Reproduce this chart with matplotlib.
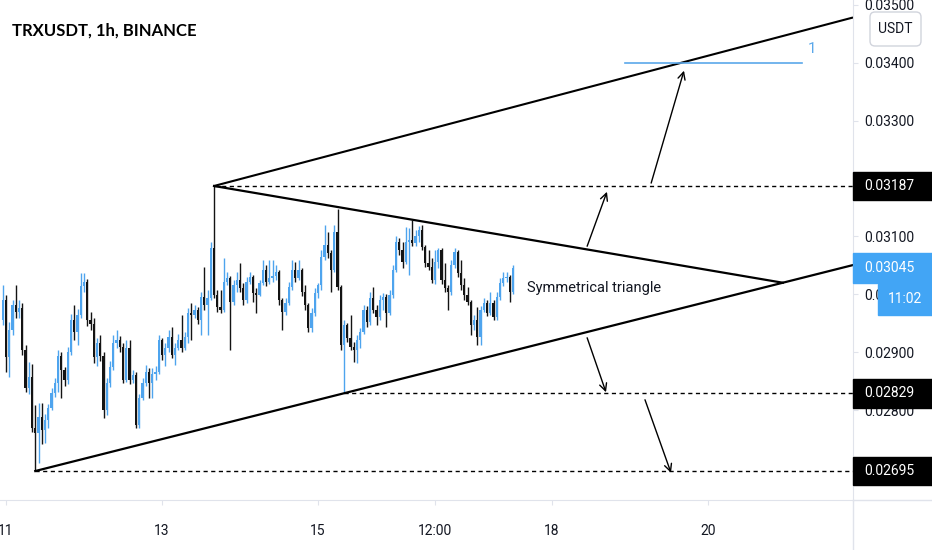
import matplotlib
matplotlib.use('Agg')
from matplotlib import pyplot as plt
from matplotlib.patches import Rectangle, FancyBboxPatch
from matplotlib.lines import Line2D
from matplotlib.transforms import blended_transform_factory, offset_copy

plt.rcParams['font.family'] = ['Roboto', 'DejaVu Sans']

# ---- data: TRXUSDT 1h candles, hour 0 = day 11 00:00 ----
first_hour = -1
first_open = 0.02956
closes = [0.02990, 0.02892, 0.02938, 0.02982, 0.02969, 0.02976, 0.02904, 0.02838, 0.02857, 0.02769,
          0.02761, 0.02788, 0.02766, 0.02783, 0.02804, 0.02830, 0.02847, 0.02893, 0.02869, 0.02852,
          0.02900, 0.02956, 0.02935, 0.02964, 0.03014, 0.03021, 0.02956, 0.02949, 0.02892, 0.02916,
          0.02893, 0.02800, 0.02847, 0.02875, 0.02916, 0.02921, 0.02909, 0.02852, 0.02907, 0.02852,
          0.02861, 0.02774, 0.02821, 0.02847, 0.02866, 0.02847, 0.02862, 0.02866, 0.02921, 0.02895,
          0.02907, 0.02926, 0.02895, 0.02907, 0.02921, 0.02907, 0.02926, 0.02968, 0.02964, 0.02973,
          0.02956, 0.02995, 0.02982, 0.02994, 0.03080, 0.02999, 0.02978, 0.02973, 0.03021, 0.03028,
          0.02987, 0.03016, 0.03025, 0.03011, 0.02990, 0.03021, 0.03030, 0.03002, 0.02999, 0.03020,
          0.03042, 0.03021, 0.03028, 0.03032, 0.03038, 0.02990, 0.02969, 0.02985, 0.03013, 0.03042,
          0.03028, 0.03042, 0.03004, 0.02982, 0.02942, 0.02968, 0.03002, 0.03016, 0.03064, 0.03085,
          0.03071, 0.03042, 0.03108, 0.03013, 0.02912, 0.02947, 0.02925, 0.02909, 0.02904, 0.02921,
          0.02935, 0.02973, 0.02952, 0.02994, 0.02973, 0.02961, 0.02990, 0.02995, 0.02968, 0.02999,
          0.03042, 0.03090, 0.03076, 0.03056, 0.03090, 0.03094, 0.03089, 0.03101, 0.03111, 0.03082,
          0.03054, 0.03047, 0.03025, 0.03056, 0.03076, 0.03025, 0.03011, 0.03004, 0.03051, 0.03073,
          0.03037, 0.03016, 0.02999, 0.02987, 0.02947, 0.02956, 0.02926, 0.02973, 0.02985, 0.02968,
          0.02985, 0.02961, 0.02995, 0.03020, 0.03028, 0.03030, 0.03004, 0.03045]
highs = [0.03016, 0.02999, 0.02952, 0.02990, 0.03016, 0.02990, 0.02985, 0.02912, 0.02883, 0.02880,
         0.02809, 0.02812, 0.02812, 0.02793, 0.02811, 0.02838, 0.02856, 0.02904, 0.02900, 0.02875,
         0.02909, 0.02966, 0.02982, 0.02975, 0.03037, 0.03037, 0.03026, 0.02969, 0.02959, 0.02925,
         0.02930, 0.02900, 0.02856, 0.02885, 0.02930, 0.02938, 0.02928, 0.02916, 0.02921, 0.02921,
         0.02869, 0.02866, 0.02828, 0.02856, 0.02878, 0.02873, 0.02873, 0.02876, 0.02930, 0.02925,
         0.02916, 0.02938, 0.02944, 0.02916, 0.02931, 0.02964, 0.02935, 0.02976, 0.02985, 0.02982,
         0.02978, 0.03004, 0.03047, 0.03007, 0.03090, 0.03187, 0.03007, 0.03007, 0.03063, 0.03038,
         0.03032, 0.03025, 0.03038, 0.03054, 0.03020, 0.03030, 0.03038, 0.03033, 0.03011, 0.03025,
         0.03059, 0.03051, 0.03059, 0.03059, 0.03051, 0.03042, 0.02994, 0.02994, 0.03021, 0.03059,
         0.03056, 0.03059, 0.03045, 0.03016, 0.02985, 0.02976, 0.03011, 0.03020, 0.03076, 0.03120,
         0.03108, 0.03076, 0.03120, 0.03147, 0.03016, 0.02956, 0.02950, 0.02964, 0.02918, 0.02930,
         0.02942, 0.02982, 0.02980, 0.03004, 0.03013, 0.02982, 0.02999, 0.03002, 0.03001, 0.03007,
         0.03051, 0.03101, 0.03097, 0.03090, 0.03116, 0.03114, 0.03128, 0.03111, 0.03118, 0.03120,
         0.03085, 0.03076, 0.03063, 0.03076, 0.03080, 0.03080, 0.03054, 0.03016, 0.03059, 0.03080,
         0.03076, 0.03059, 0.03028, 0.03013, 0.02990, 0.02964, 0.02978, 0.02980, 0.02994, 0.02990,
         0.03004, 0.02990, 0.03004, 0.03028, 0.03038, 0.03038, 0.03033, 0.03051]
lows = [0.02947, 0.02866, 0.02857, 0.02930, 0.02959, 0.02959, 0.02895, 0.02831, 0.02828, 0.02762,
        0.02695, 0.02709, 0.02742, 0.02743, 0.02769, 0.02800, 0.02823, 0.02831, 0.02821, 0.02842,
        0.02845, 0.02895, 0.02921, 0.02912, 0.02959, 0.03004, 0.02945, 0.02938, 0.02881, 0.02876,
        0.02885, 0.02787, 0.02792, 0.02840, 0.02869, 0.02907, 0.02900, 0.02847, 0.02849, 0.02845,
        0.02847, 0.02769, 0.02769, 0.02818, 0.02842, 0.02821, 0.02821, 0.02852, 0.02862, 0.02887,
        0.02876, 0.02900, 0.02890, 0.02878, 0.02904, 0.02900, 0.02904, 0.02916, 0.02921, 0.02959,
        0.02949, 0.02930, 0.02973, 0.02930, 0.02990, 0.02994, 0.02969, 0.02968, 0.02969, 0.03016,
        0.02904, 0.02982, 0.03004, 0.03004, 0.02982, 0.02985, 0.03018, 0.02987, 0.02968, 0.02997,
        0.03016, 0.03014, 0.03018, 0.03021, 0.03025, 0.02982, 0.02938, 0.02964, 0.02982, 0.03007,
        0.03021, 0.03025, 0.02997, 0.02973, 0.02935, 0.02935, 0.02963, 0.02994, 0.03007, 0.03059,
        0.03063, 0.03004, 0.03038, 0.03007, 0.02904, 0.02829, 0.02918, 0.02904, 0.02883, 0.02881,
        0.02907, 0.02931, 0.02944, 0.02947, 0.02968, 0.02947, 0.02956, 0.02973, 0.02944, 0.02964,
        0.02994, 0.03038, 0.03068, 0.03045, 0.03052, 0.03033, 0.03083, 0.03083, 0.03090, 0.03076,
        0.03047, 0.03042, 0.03020, 0.03018, 0.03045, 0.03018, 0.03004, 0.02973, 0.02999, 0.03045,
        0.03030, 0.03007, 0.02990, 0.02982, 0.02930, 0.02938, 0.02912, 0.02912, 0.02969, 0.02963,
        0.02964, 0.02956, 0.02956, 0.02990, 0.03014, 0.03021, 0.02987, 0.03001]

# drawings (hour, price)
low_pt = (9, 0.02695)
top_pt = (64, 0.03187)
apex_pt = (239, 0.03020)
channel_pt = (208, 0.03400)
mid_low_pt = (104, 0.02829)
target_price = 0.03400
target_span = (190.5, 245)
arrows = [((198.5, 0.03192), (208.6, 0.03386)),
          ((178.8, 0.03083), (184.9, 0.03177)),
          ((178.8, 0.02925), (184.6, 0.02831)),
          ((196.6, 0.02818), (204.6, 0.02692))]
last_price = 0.03045
level_prices = [0.03187, 0.02829, 0.02695]
y_ticks = [0.035, 0.034, 0.033, 0.031, 0.030, 0.029, 0.028]
x_ticks = [0, 48, 96, 132, 168, 216]
x_labels = ['11', '13', '15', '12:00', '18', '20']
xlim = (-1.85, 260.6)
ylim = (0.02645, 0.03508)

up_col = '#4ea4ee'
down_col = '#131313'
blue = '#42a5f5'
text_col = '#131722'
grid_col = '#e0e3eb'

fig = plt.figure(figsize=(9.32, 5.5), dpi=100)
ax = fig.add_axes([0, 50 / 550, 853 / 932, 500 / 550])
ax.set_xlim(*xlim)
ax.set_ylim(*ylim)

# candles
opens = [first_open] + closes[:-1]
hours = [first_hour + i for i in range(len(closes))]
cols = [up_col if c >= o else down_col for o, c in zip(opens, closes)]
ax.vlines(hours, lows, highs, colors=cols, lw=1.0, zorder=2)
bottoms = [min(o, c) for o, c in zip(opens, closes)]
heights = [max(abs(c - o), 0.000018) for o, c in zip(opens, closes)]
ax.bar(hours, heights, bottom=bottoms, width=0.72, color=cols, zorder=3)

# trend lines
def line_through(p1, p2, x_end):
    k = (p2[1] - p1[1]) / (p2[0] - p1[0])
    return [p1[0], x_end], [p1[1], p1[1] + k * (x_end - p1[0])]

xs, ys = line_through(top_pt, channel_pt, xlim[1])
ax.plot(xs, ys, color='black', lw=1.5, solid_capstyle='butt', zorder=4)
ax.plot([top_pt[0], apex_pt[0]], [top_pt[1], apex_pt[1]], color='black', lw=1.6, zorder=4)
xs, ys = line_through(low_pt, apex_pt, xlim[1])
ax.plot(xs, ys, color='black', lw=1.6, zorder=4)

# dashed levels
for start, price in [(top_pt[0], level_prices[0]), (mid_low_pt[0], level_prices[1]),
                     (low_pt[0], level_prices[2])]:
    ax.plot([start, xlim[1]], [price, price], color='black', lw=1,
            linestyle=(0, (3, 2.5)), zorder=4)

# target line
ax.plot(target_span, [target_price, target_price], color='#5ba8ea', lw=1.2, zorder=4)
ax.text(target_span[1] + 1.8, target_price + 0.00024, '1', color='#5ba8ea',
        fontsize=11, va='center', ha='left')

for start, end in arrows:
    ax.annotate('', xy=end, xytext=start,
                arrowprops=dict(arrowstyle='->', lw=1, color='black',
                                shrinkA=0, shrinkB=0, mutation_scale=13))

ax.text(160.3, 0.03011, 'Symmetrical triangle', fontsize=10.5, color=text_col,
        va='center', ha='left')

# axes styling
for s in ['top', 'left']:
    ax.spines[s].set_visible(False)
ax.spines['right'].set_color(grid_col)
ax.spines['bottom'].set_color(grid_col)
ax.yaxis.tick_right()
ax.set_yticks(y_ticks)
ax.set_yticklabels(['%.5f' % v for v in y_ticks])
ax.set_xticks(x_ticks)
ax.set_xticklabels(x_labels)
ax.tick_params(axis='y', colors=grid_col, labelcolor=text_col, labelsize=10,
               length=3.5, pad=4.5)
ax.tick_params(axis='x', colors=grid_col, labelcolor=text_col, labelsize=10,
               length=3.5, pad=14)

fig.add_artist(Line2D([853 / 932, 853 / 932], [0, 50 / 550], color=grid_col, lw=1))
fig.add_artist(Line2D([853 / 932, 1], [50 / 550, 50 / 550], color=grid_col, lw=1))

# price labels on the axis
tr = blended_transform_factory(fig.transFigure, ax.transData)
half_h = 0.000245
for price in level_prices:
    fig.add_artist(Rectangle((853 / 932, price - half_h), 79 / 932, 2 * half_h,
                             transform=tr, color='black', zorder=5))
    fig.text(864 / 932, price, '%.5f' % price, transform=tr, color='white',
             fontsize=10, va='center', ha='left', zorder=6)
fig.add_artist(Rectangle((853 / 932, last_price - 0.00026), 79 / 932, 0.00052,
                         transform=tr, color=blue, zorder=5))
fig.text(864 / 932, last_price, '%.5f' % last_price, transform=tr, color='white',
         fontsize=10, va='center', ha='left', zorder=6)
tr2 = offset_copy(tr, fig=fig, y=-31, units='dots')
fig.add_artist(Rectangle((878 / 932, last_price - 0.00027), 54 / 932, 0.00054,
                         transform=tr2, color=blue, zorder=5))
fig.text(905 / 932, last_price, '11:02', transform=tr2, color='white',
         fontsize=10, va='center', ha='center', zorder=6)

# currency box
fig.add_artist(FancyBboxPatch((8.70, 5.04), 0.51, 0.34,
                              boxstyle='round,pad=0,rounding_size=0.05',
                              transform=fig.dpi_scale_trans, facecolor='white',
                              edgecolor='#d1d4dc', lw=1, zorder=5))
fig.text(8.955, 5.21, 'USDT', transform=fig.dpi_scale_trans, color=text_col,
         fontsize=10, va='center', ha='center', zorder=6)

fig.text(12 / 932, 1 - 31 / 550, 'TRXUSDT, 1h, BINANCE', fontsize=12,
         fontweight='bold', family=['Lato', 'DejaVu Sans'], color='black',
         va='center', ha='left')

fig.savefig('out.png', dpi=100, facecolor='white')
